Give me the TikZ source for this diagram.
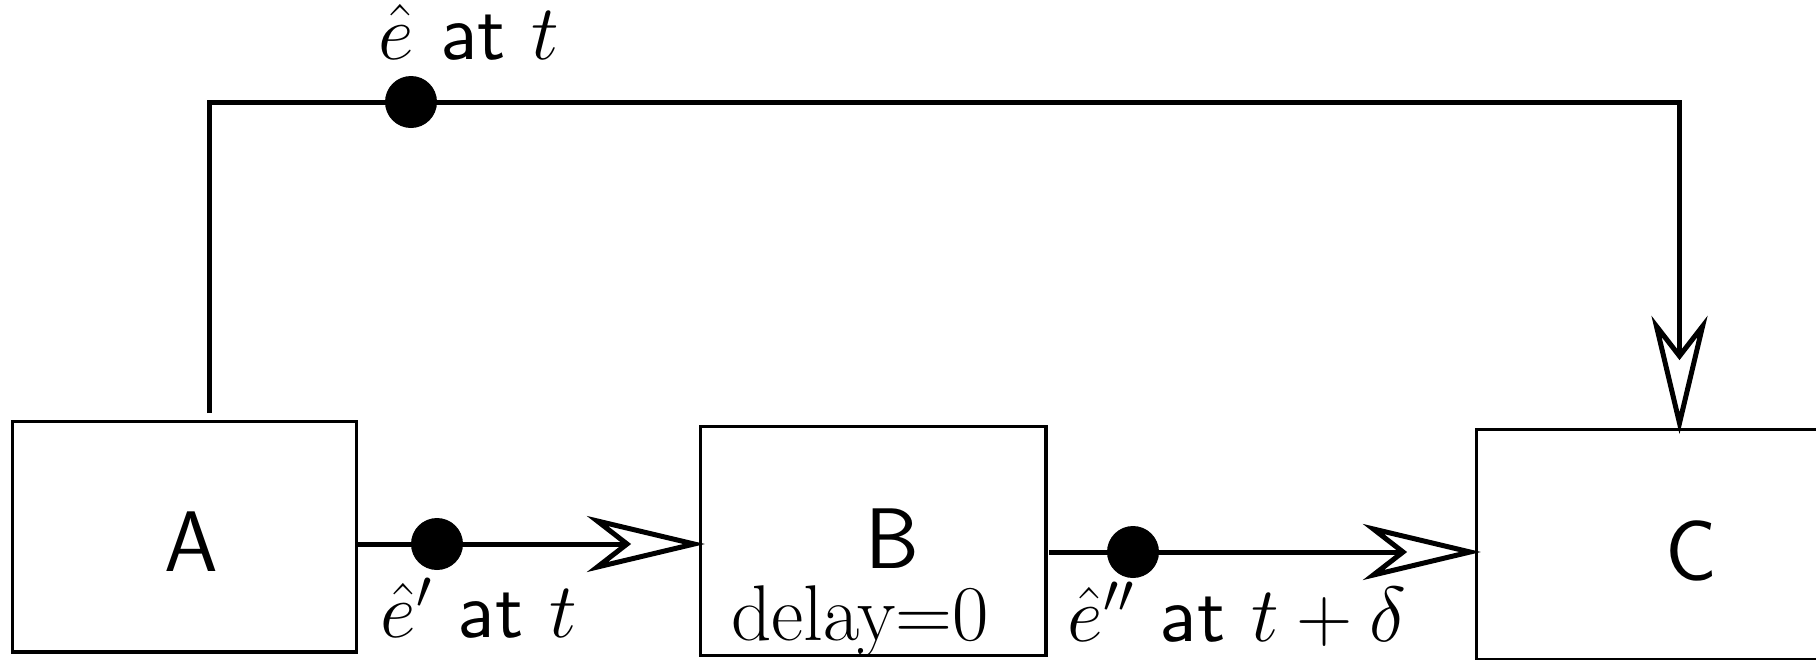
\RequirePackage{fix-cm}
\documentclass[tikz,border=0pt]{standalone}
\usepackage{fontspec}
\newfontfamily\sansten[Extension=.otf]{lmsans10-regular}
\usetikzlibrary{arrows.meta}
\begin{document}
\begin{tikzpicture}[x=1pt,y=-1pt,
  boxnode/.style={draw,line width=3.5pt,rectangle,inner sep=0pt},
  conn/.style={line width=5pt,shorten >=-6pt,-{Stealth[open,length=118pt,width=56pt,inset=36pt]}},
  dotnode/.style={circle,fill=black,inner sep=0pt,minimum size=52pt},
  big/.style={font=\fontsize{86}{96}\selectfont\sffamily,anchor=base},
  lbl/.style={font=\fontsize{78}{88}\selectfont\sansten,anchor=base,inner sep=2pt},
  dly/.style={font=\fontsize{79}{88}\selectfont\rmfamily,anchor=base}]
\useasboundingbox (0,0) rectangle (1816,659);
\node[boxnode,minimum width=344pt,minimum height=230.5pt] (A) at (184.7,536.9) {};
\node[boxnode,minimum width=345.2pt,minimum height=229.3pt] (B) at (873.3,540.9) {};
\node[boxnode,minimum width=405.6pt,minimum height=230pt] (C) at (1679.5,544.7) {};
\node[big] (tA) at (191,571) {A};
\node[big] (tB) at (892,568) {B};
\node[big] (tC) at (1691,580) {C};
\node[dly] (tdelay) at (860,640) {delay=0};
\coordinate (Atop) at (209.6,413);
\coordinate (corner) at (1679.5,102);
\draw[conn] (Atop) |- (corner) -- (C.north);
\draw[conn] (A.east |- 0,544) -- (B.west |- 0,544);
\draw[conn] (1049,552) -- (C.west |- 0,552);
\node[dotnode] (d1) at (411,102) {};
\node[dotnode] (d2) at (437,544) {};
\node[dotnode] (d3) at (1133,552) {};
\node[lbl] (l1) at (469,59) {$\hat e$ at $t$};
\node[lbl] (l2) at (479,637) {$\hat e'$ at $t$};
\node[lbl] (l3) at (1237,641) {$\hat e''$ at $t+\delta$};
\end{tikzpicture}
\end{document}
